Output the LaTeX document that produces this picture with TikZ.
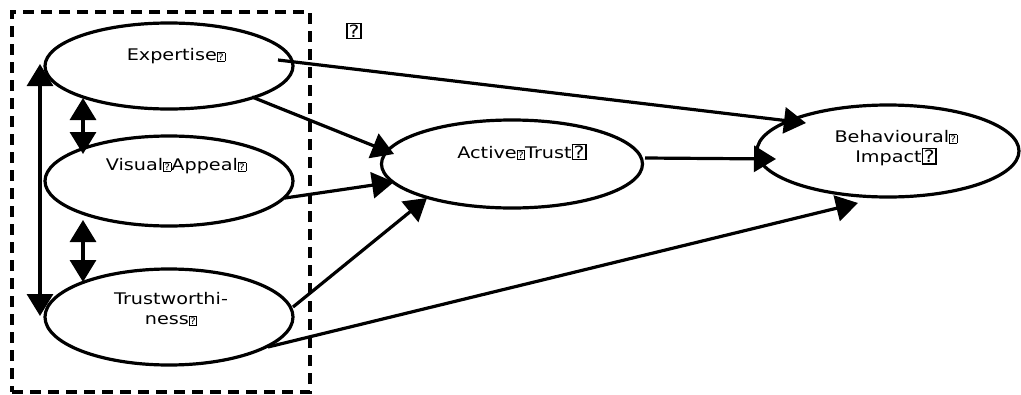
\documentclass[tikz,border=0pt]{standalone}
\usepackage{fontspec}
\usetikzlibrary{shapes.geometric,arrows.meta,calc}
\newfontfamily\lbl[FakeStretch=1.2]{DejaVu Sans}
\newcommand{\tofu}[2]{{\setlength{\fboxsep}{0.6pt}\setlength{\fboxrule}{#2}\fbox{\fontsize{#1}{#1}\selectfont ?}}}
\newcommand{\stf}{\tofu{9pt}{0.7pt}}
\newcommand{\btf}{\tofu{17pt}{1.5pt}}
\tikzset{
  oval/.style={draw, line width=3.2pt, ellipse, inner sep=0pt},
  lab/.style={font=\lbl\fontsize{16}{20}\selectfont, align=center, inner sep=0pt},
  conn/.style={line width=3.2pt, -{Triangle[length=22pt,width=26pt]}},
  dconn/.style={line width=3.2pt, {Triangle[length=22pt,width=26pt]}-{Triangle[length=22pt,width=26pt]}},
  group/.style={draw, line width=3.2pt, dash pattern=on 11pt off 7pt}
}
\begin{document}
\begin{tikzpicture}[x=1pt,y=-1pt]
\useasboundingbox (0,0) rectangle (1021,394);
\node[group, minimum width=298pt, minimum height=380pt, inner sep=0pt] (grp) at (161,202) {};
\node[lab] (q) at (354,31) {\btf};

\node[oval, minimum width=248pt, minimum height=86pt] (exp) at (169,66) {};
\node[oval, minimum width=248pt, minimum height=90pt] (vis) at (169,181) {};
\node[oval, minimum width=248pt, minimum height=96pt] (tru) at (169,317) {};
\node[oval, minimum width=261pt, minimum height=88pt] (act) at (512,164) {};
\node[oval, minimum width=262pt, minimum height=92pt] (beh) at (888,151) {};

\node[lab] (lexp) at (176,56) {Expertise\stf};
\node[lab] (lvis) at (176,166) {Visual\stf Appeal\stf};
\node[lab] (ltru) at (171,309) {Trustworthi-\\ness\stf};
\node[lab] (lact) at (522,152) {Active\stf Trust\btf};
\node[lab] (lbeh) at (896,148) {Behavioural\stf\\Impact\btf};

\draw[conn] ($(exp.center)+(109,-6)$) -- ($(beh.center)+(-82,-28)$);
\draw[conn] ($(exp.center)+(83,31)$) -- ($(act.center)+(-118,-10)$);
\draw[conn] ($(vis.center)+(116,17)$) -- ($(act.center)+(-118,18)$);
\draw[conn] ($(tru.center)+(124,-10)$) -- ($(act.center)+(-85,34)$);
\draw[conn] ($(act.center)+(133,-6)$) -- ($(beh.center)+(-112,8)$);
\draw[conn] ($(tru.center)+(99,30)$) -- ($(beh.center)+(-30,52)$);
\draw[dconn] ($(exp.center)+(-129,-2)$) -- ($(tru.center)+(-129,-1)$);
\draw[dconn] ($(exp.center)+(-86,32)$) -- ($(vis.center)+(-86,-27)$);
\draw[dconn] ($(vis.center)+(-86,39)$) -- ($(tru.center)+(-86,-35)$);
\end{tikzpicture}
\end{document}
